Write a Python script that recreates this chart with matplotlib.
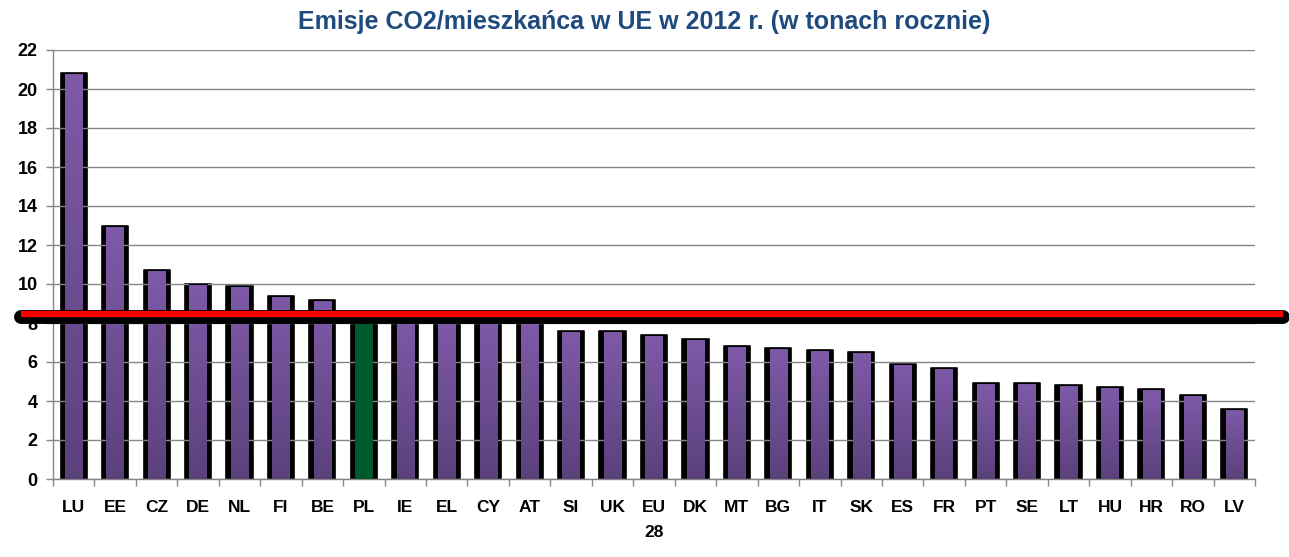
import numpy as np
import matplotlib
matplotlib.use("Agg")
import matplotlib.pyplot as plt
import matplotlib.transforms as mtransforms
from matplotlib.patches import Rectangle

# Emisje CO2 na mieszkanca w UE, 2012 (tony / rok)
countries = ["LU", "EE", "CZ", "DE", "NL", "FI", "BE", "PL", "IE", "EL", "CY", "AT",
             "SI", "UK", "EU\n28", "DK", "MT", "BG", "IT", "SK", "ES", "FR", "PT", "SE",
             "LT", "HU", "HR", "RO", "LV"]
emissions = [20.8, 13.0, 10.7, 10.0, 9.9, 9.4, 9.2, 8.3, 8.4, 8.2, 8.2, 8.1,
             7.6, 7.6, 7.4, 7.2, 6.8, 6.7, 6.6, 6.5, 5.9, 5.7, 4.9, 4.9,
             4.8, 4.7, 4.6, 4.3, 3.6]
highlight = "PL"
poland_line = 8.45
yticks = list(range(0, 23, 2))

plt.rcParams['font.family'] = ['Liberation Sans', 'DejaVu Sans']

fig = plt.figure(figsize=(12.89, 5.57), dpi=100)
ax = fig.add_axes([53 / 1289, 78 / 557, 1202 / 1289, 429 / 557])

x = np.arange(len(countries))

# gradient fioletowy (gora jasniejsza, dol ciemniejszy)
grad = np.linspace(0, 1, 256).reshape(-1, 1)
purple_cmap = matplotlib.colors.LinearSegmentedColormap.from_list(
    "purp", ["#5b417c", "#7e5aa8"])

# cien pod slupkami
ax.bar(x, emissions, width=0.63, color="black",
       edgecolor="black", linewidth=1.2, joinstyle="round", zorder=2)

for xi, v, name in zip(x, emissions, countries):
    if name == highlight:
        ax.bar(xi, v, width=0.42, color="#00592a", zorder=3)
        continue
    rect = Rectangle((xi - 0.21, 0), 0.42, v, facecolor="none",
                     edgecolor="none", zorder=4)
    ax.add_patch(rect)
    im = ax.imshow(grad, cmap=purple_cmap, aspect="auto", origin="lower",
                   extent=(xi - 0.21, xi + 0.21, 0, v), zorder=3)
    im.set_clip_path(rect)
    ax.plot([xi - 0.21, xi + 0.21], [v, v], color="black", linewidth=0.8, zorder=4)

ax.set_xlim(-0.5, len(countries) - 0.5)
ax.set_ylim(0, 22)

# siatka
ax.set_yticks(yticks)
ax.yaxis.grid(True, color="#868686", linewidth=1.0, zorder=5)
ax.set_axisbelow(False)
for s in ["top", "right"]:
    ax.spines[s].set_visible(False)
for s in ["left", "bottom"]:
    ax.spines[s].set_color("#868686")
    ax.spines[s].set_linewidth(1.0)

ax.set_xticks(x)
ax.set_xticklabels(countries, fontsize=12.5, fontweight="bold", linespacing=1.85,
                   va="top")
ax.set_xticks(np.arange(-0.5, len(countries), 1), minor=True)
ax.tick_params(axis="x", which="major", length=0, pad=15)
ax.tick_params(axis="x", which="minor", length=5, color="#868686", width=1)
ax.tick_params(axis="y", length=5, color="#868686", width=1, pad=6,
               labelsize=13)
for lab in ax.get_yticklabels():
    lab.set_fontweight("bold")

# czerwona linia z cieniem
trans = mtransforms.blended_transform_factory(ax.transAxes, ax.transData)
shadow = mtransforms.offset_copy(trans, fig=fig, x=0, y=-3, units="dots")
ax.plot([-0.0266, 1.0233], [poland_line, poland_line], color="black",
        linewidth=10, solid_capstyle="round", transform=shadow,
        clip_on=False, zorder=6)
ax.plot([-0.0266, 1.0233], [poland_line, poland_line], color="#ff0000",
        linewidth=4.5, solid_capstyle="butt", transform=trans,
        clip_on=False, zorder=7)

fig.text(0.5, 1 - 22 / 557, "Emisje CO2/mieszkańca w UE w 2012 r. (w tonach rocznie)",
         ha="center", va="center", fontsize=18, fontweight="bold", color="#1f4a7d")

fig.savefig("out.png", dpi=100)
